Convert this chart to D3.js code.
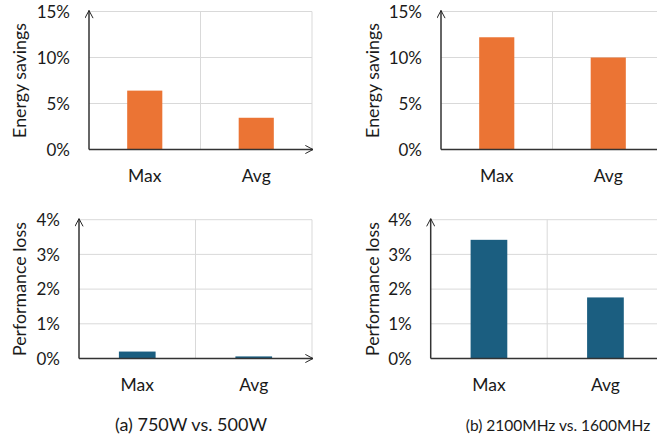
<!DOCTYPE html>
<html><head><meta charset="utf-8">
<script src="https://cdn.jsdelivr.net/npm/d3@7"></script>
<style>
html,body{margin:0;padding:0;background:#fff;}
svg{display:block;font-family:Lato, "Open Sans", sans-serif;}
</style></head>
<body>
<svg id="chart" width="657" height="436"></svg>
<script>
// ---- data ----
const categories = ["Max", "Avg"];
const energyA = [6.4, 3.45];   // (a) energy savings %
const energyB = [12.2, 10.0];  // (b) energy savings %
const perfA = [0.2, 0.06];     // (a) performance loss %
const perfB = [3.42, 1.76];    // (b) performance loss %
const energyTicks = [0, 5, 10, 15];
const perfTicks = [0, 1, 2, 3, 4];
const captions = ["(a) 750W vs. 500W", "(b) 2100MHz vs. 1600MHz"];
const yTitles = ["Energy savings", "Performance loss"];

const orange = "#eb7434", blue = "#1b5e80";
const svg = d3.select("#chart");
const defs = svg.append("defs");
defs.append("marker").attr("id","arr").attr("viewBox","0 0 10 10")
  .attr("refX",9.5).attr("refY",5).attr("markerWidth",9).attr("markerHeight",9)
  .attr("markerUnits","userSpaceOnUse").attr("orient","auto")
  .append("path").attr("d","M1,0.5 L9.5,5 L1,9.5").attr("fill","none")
  .attr("stroke","#222").attr("stroke-width",1.1);

const panels = [
  {vals: energyA, ticks: energyTicks, max: 15, color: orange, title: yTitles[0], L: 89, R: 312, T: 11.5, B: 149.5, tx: 20},
  {vals: energyB, ticks: energyTicks, max: 15, color: orange, title: yTitles[0], L: 441, R: 664, T: 11.5, B: 149.5, tx: 373},
  {vals: perfA, ticks: perfTicks, max: 4, color: blue, title: yTitles[1], L: 79, R: 312, T: 219.7, B: 358.5, tx: 20},
  {vals: perfB, ticks: perfTicks, max: 4, color: blue, title: yTitles[1], L: 430.7, R: 663.7, T: 219.7, B: 358.5, tx: 373}
];

panels.forEach(p => {
  const g = svg.append("g");
  const x = d3.scaleBand().domain(categories).range([p.L, p.R]).paddingInner(0.685).paddingOuter(0.3425);
  const y = d3.scaleLinear().domain([0, p.max]).range([p.B, p.T]);
  const step = x.step();
  g.selectAll(".hg").data(p.ticks.slice(1)).join("line")
    .attr("x1", p.L).attr("x2", p.R).attr("y1", d => y(d)).attr("y2", d => y(d))
    .attr("stroke", "#d9d9d9").attr("stroke-width", 1);
  g.selectAll(".vg").data(categories).join("line")
    .attr("x1", d => x(d) - x.paddingOuter()*step + step).attr("x2", d => x(d) - x.paddingOuter()*step + step)
    .attr("y1", p.T).attr("y2", p.B)
    .attr("stroke", "#d9d9d9").attr("stroke-width", 1);
  g.selectAll(".bar").data(p.vals).join("rect")
    .attr("x", (d,i) => x(categories[i])).attr("width", x.bandwidth())
    .attr("y", d => y(d)).attr("height", d => y(0) - y(d))
    .attr("fill", p.color);
  g.selectAll(".tl").data(p.ticks).join("text")
    .attr("x", p.L - 19).attr("y", d => y(d)).attr("dy", "0.36em")
    .attr("text-anchor", "end").attr("font-size", 17).attr("fill", "#1a1a1a")
    .text(d => d + "%");
  g.selectAll(".cl").data(categories).join("text")
    .attr("x", d => x(d) + x.bandwidth()/2).attr("y", p.B + 32.5)
    .attr("text-anchor", "middle").attr("font-size", 17.5).attr("fill", "#1a1a1a")
    .text(d => d);
  g.append("line").attr("x1", p.L).attr("x2", p.L).attr("y1", p.B).attr("y2", p.T - 1)
    .attr("stroke", "#333").attr("stroke-width", 1.5).attr("marker-end", "url(#arr)");
  g.append("line").attr("x1", p.L).attr("x2", p.R + 1).attr("y1", p.B).attr("y2", p.B)
    .attr("stroke", "#333").attr("stroke-width", 1.5).attr("marker-end", "url(#arr)");
  g.append("text").attr("transform", `translate(${p.tx},${(p.T + p.B)/2}) rotate(-90)`)
    .attr("dy", "0.36em").attr("text-anchor", "middle").attr("font-size", 17.8).attr("fill", "#1a1a1a")
    .text(p.title);
});

svg.selectAll(".cap").data(captions).join("text")
  .attr("x", (d,i) => [191, 558][i]).attr("y", 431)
  .attr("text-anchor", "middle").attr("font-size", (d,i) => [18, 15.5][i]).attr("fill", "#1a1a1a")
  .text(d => d);
</script>
</body></html>
